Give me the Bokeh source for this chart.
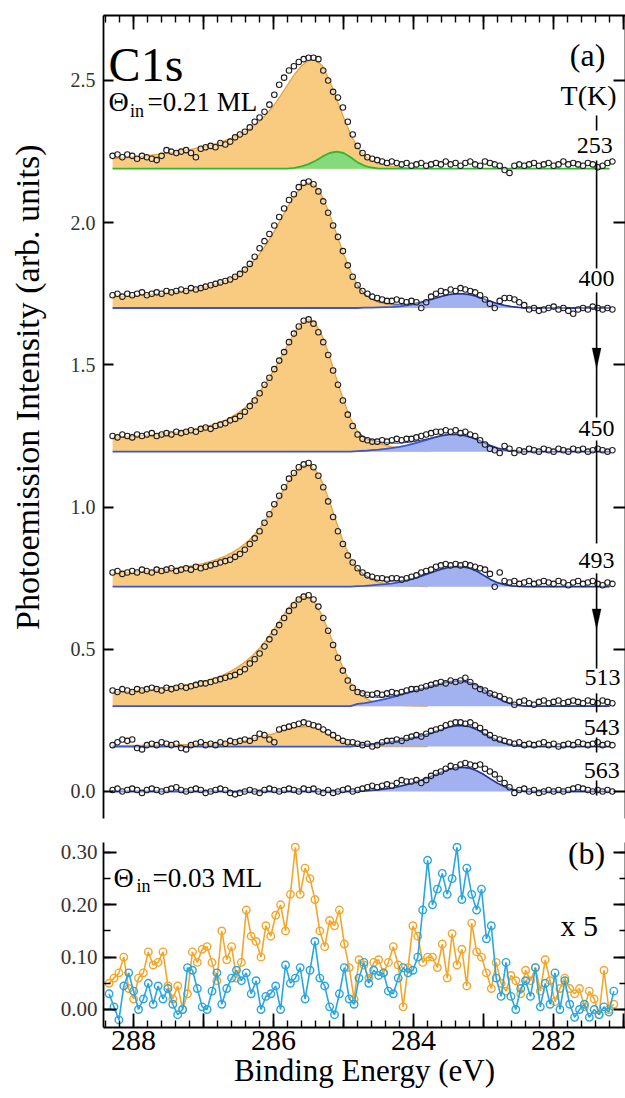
import numpy as np
from bokeh.plotting import figure
from bokeh.layouts import column
from bokeh.models import (Range1d, LinearAxis, FixedTicker, Label, Arrow,
                          PolyAnnotation, PrintfTickFormatter)
from bokeh.embed import file_html
from bokeh.resources import INLINE

FONT = "Liberation Serif"

# ---------------- panel (a) data ----------------
TEMPS = ["253", "400", "450", "493", "513", "543", "563"]
OFFSETS = [2.19, 1.70, 1.195, 0.72, 0.30, 0.158, 0.0]

# measured points: binding energy grid 288.30 eV downward in 0.07 eV steps
E_A_START, E_A_STEP, N_A = 288.30, 0.07, 103
S253 = [.045,.05,.04,.05,.045,.035,.045,.04,.035,.03,
        .045,.065,.06,.055,.06,.065,.055,.04,.07,.075,
        .08,.075,.09,.085,.095,.11,.12,.13,.145,.165,
        .18,.20,.225,.26,.295,.32,.345,.36,.375,.385,
        .39,.39,.385,.345,.31,.27,.25,.215,.165,.12,
        .08,.055,.04,.035,.03,.025,.02,.025,.02,.015,
        .02,.01,.015,.02,.01,.015,.02,.015,.025,.015,
        .02,.01,.02,.025,.015,.01,.025,.02,.015,.01,
        -.005,-.015,.01,.015,.01,.015,.02,.01,.015,.02,
        .01,.015,.025,.015,.02,.015,.01,.02,.015,.005,
        .01,.02,.025]
S400 = [.045,.05,.04,.05,.045,.05,.055,.045,.05,.055,
        .05,.06,.055,.06,.065,.06,.07,.065,.07,.075,
        .08,.085,.09,.095,.10,.11,.12,.135,.155,.18,
        .21,.235,.26,.29,.32,.35,.38,.40,.425,.44,
        .445,.435,.41,.375,.335,.29,.25,.20,.15,.11,
        .08,.06,.05,.04,.035,.03,.025,.025,.03,.025,
        .02,.025,.02,.0,.02,.04,.05,.06,.055,.065,
        .06,.07,.065,.06,.055,.045,.03,.015,.0,.025,
        .035,.035,.03,.02,.01,-.005,.0,-.01,-.005,.0,
        .005,-.005,.0,-.01,-.02,-.005,.0,-.005,.005,.0,
        -.005,.0,-.005]
S450 = [.055,.05,.06,.055,.05,.06,.055,.06,.065,.055,
        .06,.065,.06,.07,.065,.07,.075,.07,.08,.085,
        .08,.09,.095,.10,.11,.115,.125,.14,.16,.18,
        .205,.235,.26,.29,.32,.35,.385,.415,.44,.46,
        .465,.45,.42,.385,.34,.285,.235,.18,.13,.09,
        .06,.045,.04,.035,.035,.04,.035,.04,.045,.04,
        .045,.045,.05,.055,.06,.065,.07,.07,.075,.07,
        .075,.065,.07,.06,.055,.04,.025,.01,.005,-.005,
        .02,.01,-.005,.005,.0,.01,.005,.0,.01,.005,
        .0,.01,.005,.0,.01,.005,.01,.0,.005,.01,
        .005,.0,.005]
S493 = [.05,.055,.045,.05,.055,.05,.06,.055,.05,.06,
        .055,.06,.065,.055,.06,.065,.06,.07,.065,.07,
        .075,.08,.085,.09,.095,.105,.115,.13,.15,.17,
        .195,.225,.255,.29,.32,.35,.38,.40,.42,.43,
        .435,.42,.39,.35,.30,.245,.195,.15,.11,.085,
        .065,.05,.04,.035,.03,.03,.025,.03,.03,.025,
        .03,.035,.04,.05,.055,.06,.07,.075,.08,.075,
        .08,.075,.08,.075,.07,.065,.06,.045,.0,.05,
        .02,.015,.02,.01,.015,.02,.01,.015,.02,.015,
        .01,.02,.015,.005,.015,.02,.01,.015,.02,.01,
        .005,.015,.01]
S513 = [.055,.05,.06,.055,.05,.06,.055,.06,.065,.06,
        .055,.065,.06,.065,.07,.065,.07,.075,.08,.08,
        .085,.09,.095,.10,.105,.11,.12,.13,.15,.165,
        .185,.21,.235,.26,.285,.31,.335,.355,.375,.385,
        .39,.375,.35,.31,.265,.215,.17,.125,.09,.065,
        .05,.045,.04,.04,.045,.04,.045,.05,.045,.05,
        .055,.06,.06,.065,.07,.075,.08,.085,.08,.09,
        .085,.09,.10,.085,.07,.06,.055,.045,.04,.035,
        .025,.02,.005,.015,.02,.01,.005,.015,.02,.01,
        .015,.02,.01,.015,.02,.015,.01,.02,.015,.01,
        .02,.015,.01]
S543 = [.005,.015,.025,.02,.025,-.005,-.01,.005,.01,.005,
        .015,.01,.005,.01,-.005,-.01,.005,.01,.015,.005,
        .01,.005,.015,.01,.02,.015,.02,.025,.02,.03,
        .045,.04,.025,.015,.06,.065,.07,.075,.08,.085,
        .08,.075,.07,.06,.05,.04,.03,.02,.015,.015,
        .01,.005,.01,.0,.005,.015,.02,.02,.025,.02,
        .03,.035,.04,.035,.045,.055,.06,.065,.075,.08,
        .085,.085,.08,.085,.075,.065,.05,.04,.03,.025,
        .02,.015,.01,.015,.005,.01,.005,.01,.015,.005,
        .01,.0,.005,.01,.005,.015,.01,.005,.01,.015,
        .005,.01,.005]
S563 = [.005,.01,.0,.005,.01,.005,-.005,.005,.01,.005,
        .0,.005,.01,.015,.005,.0,.005,.01,.005,-.005,
        .0,.005,.01,.005,-.005,-.01,-.005,.0,.005,.0,
        -.005,.005,.01,.005,.0,.005,.01,.005,.0,.01,
        .005,.01,.0,-.005,.005,-.005,.0,.005,.01,.0,
        .005,.01,.015,.02,.015,.02,.025,.02,.03,.04,
        .035,.035,.04,.03,.04,.055,.065,.07,.08,.09,
        .085,.095,.10,.095,.09,.095,.08,.07,.06,.045,
        .03,.015,-.005,.005,.01,.0,.005,-.005,.0,.005,
        .0,.005,.0,.005,.01,.015,.01,.005,.0,.005,
        .0,.005,.0]

# fit components: grid 288.3 eV downward in 0.1 eV steps (72 points)
E_FIT_START, E_FIT_STEP, N_FIT = 288.30, 0.10, 72
ORANGE_K0, BLUE_K0, GREEN_K0 = 0, 35, 25   # first grid index of each component
O253 = [.035,.037,.039,.041,.043,.046,.049,.052,.055,.059,
        .063,.067,.072,.077,.083,.09,.098,.107,.118,.131,
        .147,.167,.192,.222,.257,.295,.332,.362,.38,.383,
        .36,.31,.245,.18,.12,.075,.045,.028,.018,.012,
        .008,.005,.003,.002,.001,.0]
O400 = [.04,.041,.042,.043,.045,.047,.049,.051,.054,.057,
        .06,.064,.068,.073,.079,.086,.095,.106,.12,.138,
        .16,.19,.225,.265,.31,.355,.395,.428,.442,.43,
        .39,.33,.26,.19,.128,.08,.048,.03,.02,.014,
        .01,.007,.005,.003,.002,.001]
O450 = [.05,.051,.052,.054,.056,.058,.06,.062,.065,.068,
        .071,.075,.08,.085,.092,.10,.11,.122,.137,.156,
        .18,.21,.245,.285,.33,.375,.418,.452,.465,.45,
        .405,.335,.255,.18,.115,.07,.045,.035,.028,.022,
        .017,.013,.01,.007,.005,.003]
O493 = [.048,.049,.05,.051,.053,.055,.057,.059,.062,.065,
        .068,.072,.077,.082,.089,.097,.107,.119,.134,.153,
        .176,.205,.24,.28,.322,.365,.40,.425,.43,.41,
        .365,.30,.225,.155,.10,.062,.038,.024,.016,.011,
        .008,.005,.003,.002,.001,.0]
O513 = [.05,.051,.052,.054,.056,.058,.06,.063,.066,.069,
        .073,.077,.082,.087,.094,.102,.112,.124,.139,.157,
        .178,.204,.235,.27,.305,.34,.368,.386,.385,.36,
        .315,.255,.19,.13,.082,.05,.03,.018,.011,.007,
        .004,.003,.002,.001,.0,.0]
O543 = [.003,.003,.004,.004,.004,.005,.005,.005,.006,.006,
        .007,.007,.008,.008,.009,.011,.013,.015,.018,.022,
        .027,.033,.039,.045,.055,.062,.067,.07,.069,.063,
        .052,.04,.027,.016,.009,.005,.003,.002,.001,.0,
        .0,.0,.0,.0,.0,.0]
O563 = []
B400 = [.0,.001,.001,.002,.003,.004,.006,.009,.013,.019,.026,.034,.041,
        .047,.05,.05,.047,.041,.032,.023,.015,.009,.005,.002,.0]
B450 = [.002,.003,.005,.007,.01,.013,.017,.022,.028,.035,.042,.05,.056,
        .06,.061,.058,.052,.043,.032,.021,.012,.006,.003,.001,.0]
B493 = [.002,.003,.005,.007,.009,.012,.016,.021,.028,.036,.045,.054,.062,
        .068,.071,.07,.065,.055,.04,.025,.014,.007,.003,.001,.0]
B513 = [.008,.011,.015,.02,.026,.032,.039,.046,.053,.06,.067,.074,.08,
        .085,.088,.088,.083,.073,.058,.042,.028,.016,.008,.003,.0]
B543 = [.003,.005,.007,.01,.013,.017,.021,.026,.031,.037,.044,.052,.06,
        .068,.073,.074,.07,.06,.047,.033,.021,.012,.006,.002,.0]
B563 = [.001,.002,.004,.006,.009,.013,.018,.024,.031,.039,.048,.058,.068,
        .077,.083,.085,.082,.073,.06,.044,.029,.017,.008,.003,.0]
G253 = [0,.003,.008,.016,.028,.043,.055,.06,.055,.04,.022,.01,.004,0]

# ---------------- panel (b) data (x 5) ----------------
E_B_START, E_B_STEP, N_B = 288.35, 0.07, 104
ORANGE_B = [.05,.06,.07,.10,.04,.02,.06,.07,.11,.085,
            .09,.11,.045,.02,.045,.0,.03,.11,.09,.115,
            .12,.09,.055,.15,.095,.12,.06,.09,.19,.14,
            .13,.10,.16,.14,.18,.20,.15,.22,.31,.22,
            .27,.25,.21,.15,.12,.17,.16,.19,.125,.08,
            .02,.095,.085,.06,.09,.095,.07,.09,.12,.085,
            .005,.08,.16,.14,.09,.10,.10,.08,.125,.06,
            .145,.085,.115,.045,.165,.11,.10,.07,.04,.09,
            .05,.035,.065,.055,.03,.075,.055,.08,.035,.095,
            .055,.015,.04,.06,.04,.03,.04,.005,.035,.02,
            -.01,.075,.0,.01]
BLUE_B = [.03,.005,-.02,.045,.07,.035,.0,.02,.05,.01,
          .045,.02,.04,.01,-.01,.0,.08,.075,.04,.005,
          .0,.035,.07,.01,.04,.06,.075,.055,.07,.03,
          .055,.0,.025,.03,.045,.0,.085,.05,.06,.08,
          .02,.075,.13,.06,.045,.005,-.01,.03,.08,.02,
          .01,.06,.09,.05,.075,.065,.07,.035,.03,.06,
          .08,.07,.075,.10,.19,.285,.20,.23,.26,.22,
          .25,.31,.21,.27,.22,.19,.23,.135,.16,.06,
          .025,.09,.025,.0,.04,.055,.025,.08,.005,.05,
          .01,.07,.0,.055,.01,-.015,.0,.01,-.015,.0,
          -.01,.005,-.005,.035]

X_TICKS = [281, 282, 283, 284, 285, 286, 287, 288]
X_TICK_LABELS = {281: "", 282: "282", 283: "", 284: "284", 285: "", 286: "286", 287: "", 288: "288"}
YA_TICKS = [0.0, 0.5, 1.0, 1.5, 2.0, 2.5]
YB_TICKS = [0.0, 0.1, 0.2, 0.3]
YB_MINOR = [0.0, 0.05, 0.1, 0.15, 0.2, 0.25, 0.3]

# ---------------- styling ----------------
ORANGE_FILL = "#F9CB80"
ORANGE_LINE = "#E9A23B"
BLUE_FILL = "#A2B1F0"
BLUE_LINE = "#3A55D0"
GREEN_FILL = "#86DA7E"
GREEN_LINE = "#2EB82E"
NAVY = "#25306F"
B_ORANGE = "#F3A62A"
B_BLUE = "#2AA6DF"

E_a = np.round(E_A_START - E_A_STEP * np.arange(N_A), 3)
E_fit = np.round(E_FIT_START - E_FIT_STEP * np.arange(N_FIT), 3)
E_b = np.round(E_B_START - E_B_STEP * np.arange(N_B), 3)
x_minor = [round(280.8 + 0.2 * k, 1) for k in range(39)]


def pad(arr, k0):
    full = np.zeros(N_FIT)
    full[k0:k0 + len(arr)] = arr
    return full


def axis(ticks, minor, tin, min_in, labels=False, size="20px", color="#333",
         standoff=8, fmt=None):
    ax = LinearAxis(ticker=FixedTicker(ticks=ticks, minor_ticks=minor))
    ax.major_tick_in = tin
    ax.major_tick_out = 0
    ax.minor_tick_in = min_in
    ax.minor_tick_out = 0
    ax.axis_line_width = 1.8
    ax.major_tick_line_width = 1.8
    ax.minor_tick_line_width = 1.4
    ax.axis_line_color = "black"
    ax.major_tick_line_color = "black"
    ax.minor_tick_line_color = "black"
    if labels:
        ax.major_label_text_font = FONT
        ax.major_label_text_font_size = size
        ax.major_label_text_color = color
        ax.major_label_standoff = standoff
        if fmt is not None:
            ax.formatter = fmt
    else:
        ax.major_label_overrides = {t: "" for t in ticks}
        ax.major_label_text_font_size = "1px"
        ax.major_label_standoff = 0
    return ax


def lab(p, x, y, text, size, align="left", baseline="alphabetic", angle=0.0,
        color="black"):
    p.add_layout(Label(x=x, y=y, text=text, text_font=FONT,
                       text_font_size=f"{size}px", text_align=align,
                       text_baseline=baseline, angle=angle,
                       text_color=color))


# ---------------- panel (a) ----------------
pa = figure(width=625, height=830, output_backend="svg", toolbar_location=None,
            x_range=Range1d(288.43, 280.973), y_range=Range1d(-0.095, 2.7285),
            x_axis_location=None, y_axis_location=None,
            min_border_left=103, min_border_right=0, min_border_top=15,
            min_border_bottom=12)
pa.outline_line_color = None
pa.grid.grid_line_color = None

pa.add_layout(axis(X_TICKS, x_minor, 14, 7), "above")
ya = axis(YA_TICKS, [], 10, 0, labels=True, size="20px", standoff=8,
          fmt=PrintfTickFormatter(format="%.1f"))
ya.axis_label = "\u00a0" * 7 + "Photoemission Intensity (arb. units)"
ya.axis_label_text_font = FONT
ya.axis_label_text_font_size = "34px"
ya.axis_label_text_font_style = "normal"
ya.axis_label_text_color = "black"
ya.axis_label_standoff = 22
pa.add_layout(ya, "left")
pa.add_layout(axis(YA_TICKS, [], 12, 0), "right")

DATA = [S253, S400, S450, S493, S513, S543, S563]
ORANGES = [O253, O400, O450, O493, O513, O543, O563]
BLUES = [[], B400, B450, B493, B513, B543, B563]

for temp, base, data, orange, blue in zip(TEMPS, OFFSETS, DATA, ORANGES, BLUES):
    basel = np.full(N_FIT, base)
    o = pad(orange, ORANGE_K0)
    if len(orange):
        pa.varea(x=E_fit, y1=basel, y2=basel + o, fill_color=ORANGE_FILL)
        pa.line(E_fit[:len(orange)], (basel + o)[:len(orange)],
                line_color=ORANGE_LINE, line_width=1.3)
    if temp == "253":
        g = pad(G253, GREEN_K0)
        pa.varea(x=E_fit, y1=basel, y2=basel + g, fill_color=GREEN_FILL)
        pa.line(E_fit, basel + g, line_color=GREEN_LINE, line_width=1.8)
    else:
        b = pad(blue, BLUE_K0)
        pa.varea(x=E_fit, y1=basel, y2=basel + b, fill_color=BLUE_FILL)
        pa.line(E_fit, basel + b, line_color=BLUE_LINE, line_width=1.8)
        pa.line(E_fit[BLUE_K0:], (basel + o + b)[BLUE_K0:], line_color=NAVY,
                line_width=1.0)
    pa.scatter(E_a, base + np.array(data), marker="circle", size=5.5,
               line_color="#1c1c1c", line_width=1.1, fill_color="white",
               fill_alpha=0.35)

# annotations in panel (a)
lab(pa, 288.357, 2.556, "C1s", 48)
lab(pa, 288.357, 2.426, "Θ", 28)
lab(pa, 288.05, 2.394, "in", 18)
lab(pa, 287.80, 2.426, "=0.21 ML", 27)
lab(pa, 281.514, 2.591, "(a)", 32, align="center", baseline="middle")
lab(pa, 281.50, 2.447, "T(K)", 28, align="center", baseline="middle")
TEMP_LABEL_POS = [(281.414, 2.271), (281.386, 1.804), (281.386, 1.276),
                  (281.386, 0.812), (281.30, 0.401), (281.314, 0.225),
                  (281.314, 0.074)]
for t, (x, y) in zip(TEMPS, TEMP_LABEL_POS):
    lab(pa, x, y, t, 24, align="center", baseline="middle")

ARROW_X = 281.386
for y0, y1 in [(2.377, 2.324), (2.219, 1.839), (1.755, 1.315), (1.234, 0.872),
               (0.767, 0.432), (0.345, 0.278), (0.190, 0.137), (0.039, -0.014)]:
    pa.add_layout(Arrow(x_start=ARROW_X, y_start=y0, x_end=ARROW_X, y_end=y1,
                        end=None, line_width=1.6, line_color="black"))
for tip in [1.487, 0.570]:
    pa.add_layout(PolyAnnotation(xs=[ARROW_X - 0.064, ARROW_X + 0.064, ARROW_X],
                                 ys=[tip + 0.072, tip + 0.072, tip],
                                 fill_color="black", fill_alpha=1.0,
                                 line_color="black", line_width=1))

# ---------------- panel (b) ----------------
pb = figure(width=625, height=268, output_backend="svg", toolbar_location=None,
            x_range=Range1d(288.43, 280.973), y_range=Range1d(-0.0344, 0.319),
            x_axis_location=None, y_axis_location=None,
            min_border_left=103, min_border_right=0, min_border_top=12,
            min_border_bottom=71)
pb.outline_line_color = None
pb.grid.grid_line_color = None

xb = axis(X_TICKS, x_minor, 14, 7, labels=True, size="30px", color="black",
          standoff=3)
xb.major_label_overrides = X_TICK_LABELS
xb.axis_label = "Binding Energy (eV)"
xb.axis_label_text_font = FONT
xb.axis_label_text_font_size = "31px"
xb.axis_label_text_font_style = "normal"
xb.axis_label_text_color = "black"
xb.axis_label_standoff = 0
pb.add_layout(xb, "below")
pb.add_layout(axis(YB_TICKS, YB_MINOR, 13, 7, labels=True, size="21px",
                   standoff=6, fmt=PrintfTickFormatter(format="%.2f")), "left")
pb.add_layout(axis(YB_TICKS, YB_MINOR, 12, 6), "right")

for vals, col in [(ORANGE_B, B_ORANGE), (BLUE_B, B_BLUE)]:
    pb.line(E_b, vals, line_color=col, line_width=1.6)
    pb.scatter(E_b, vals, marker="circle", size=7.5, line_color=col,
               line_width=1.4, fill_color=None)

lab(pb, 288.286, 0.252, "Θ", 28)
lab(pb, 287.96, 0.235, "in", 18)
lab(pb, 287.73, 0.252, "=0.03 ML", 27)
lab(pb, 281.529, 0.298, "(b)", 32, align="center", baseline="middle")
lab(pb, 281.90, 0.161, "x 5", 30)

layout = column(pa, pb, spacing=0)
open("out.html", "w").write(file_html(layout, INLINE))
